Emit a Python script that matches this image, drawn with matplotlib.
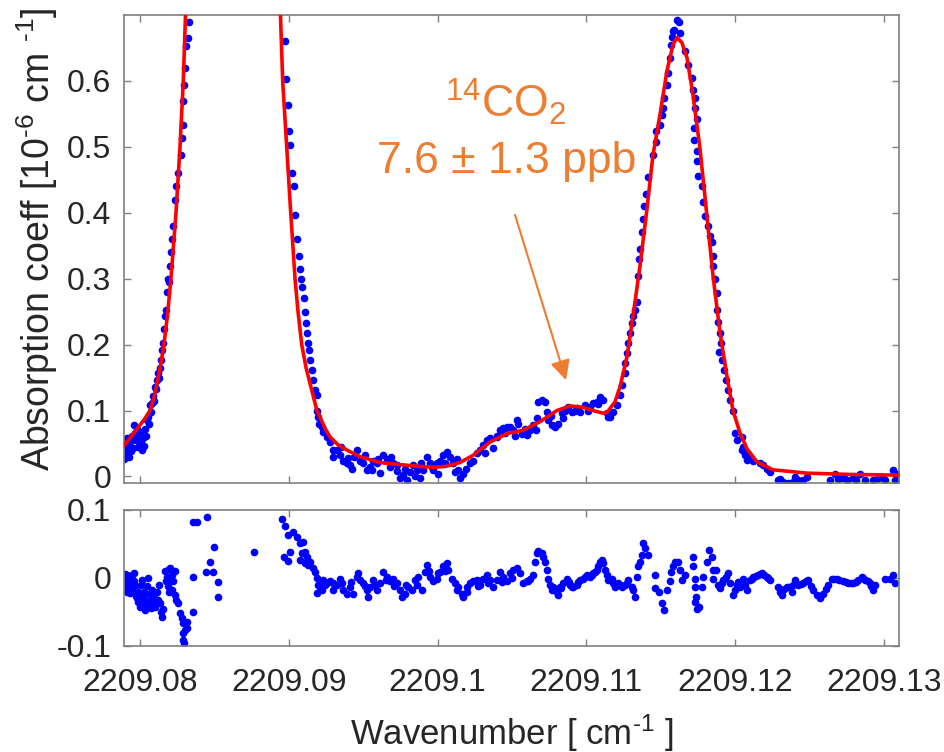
import matplotlib
matplotlib.use("Agg")
import matplotlib.pyplot as plt

# wavenumber offsets are given in 1e-3 cm^-1 above 2209.000
WN_BASE = 2209.0

# measured absorption coefficient [1e-6 cm^-1], segment by segment
left_wing = [
    (78.92, 0.050), (78.95, 0.027), (78.99, 0.040), (79.06, 0.035), (79.12, 0.058),
    (79.19, 0.045), (79.26, 0.030), (79.33, 0.052), (79.40, 0.038), (79.46, 0.062),
    (79.53, 0.043), (79.60, 0.078), (79.66, 0.066), (79.73, 0.055), (79.80, 0.072),
    (79.87, 0.045), (79.93, 0.060), (80.00, 0.068), (80.07, 0.050), (80.13, 0.040),
    (80.20, 0.058), (80.27, 0.046), (80.34, 0.072), (80.40, 0.062), (80.47, 0.085),
    (80.54, 0.090), (80.60, 0.080), (80.67, 0.108), (80.74, 0.098), (80.81, 0.112),
    (80.87, 0.122), (80.94, 0.115), (81.01, 0.136), (81.08, 0.132), (81.14, 0.146),
    (81.21, 0.157), (81.28, 0.150), (81.34, 0.165), (81.41, 0.177), (81.48, 0.192),
    (81.54, 0.203), (81.61, 0.223), (81.68, 0.243), (81.75, 0.253), (81.81, 0.280),
    (81.88, 0.300), (81.95, 0.295), (82.02, 0.320), (82.08, 0.340), (82.15, 0.360),
    (82.22, 0.380), (82.35, 0.420), (82.44, 0.440), (82.55, 0.460), (82.73, 0.487),
    (82.80, 0.513), (82.89, 0.533), (82.89, 0.570), (82.96, 0.594), (83.02, 0.620),
    (83.11, 0.653), (83.20, 0.665), (83.29, 0.690),
]

right_wing = [
    (89.74, 0.660), (89.81, 0.603), (89.95, 0.563), (89.99, 0.524), (90.08, 0.503),
    (90.19, 0.460), (90.35, 0.440), (90.42, 0.397), (90.57, 0.360), (90.68, 0.335),
    (90.75, 0.315), (90.82, 0.300), (90.89, 0.287), (90.99, 0.270), (91.09, 0.250),
    (91.16, 0.233), (91.20, 0.218), (91.29, 0.203), (91.36, 0.192), (91.42, 0.177),
    (91.53, 0.162), (91.60, 0.147), (91.76, 0.131), (91.87, 0.124), (91.89, 0.100),
    (91.99, 0.090), (92.05, 0.080), (92.21, 0.075), (92.32, 0.067), (92.55, 0.060),
    (92.77, 0.052), (92.99, 0.040), (93.00, 0.030), (93.22, 0.040), (93.44, 0.032),
    (93.50, 0.045), (93.66, 0.024), (93.89, 0.020), (94.00, 0.028), (94.11, 0.017),
    (94.22, 0.012), (94.40, 0.030), (94.56, 0.040), (94.78, 0.024), (95.01, 0.020),
    (95.10, 0.032), (95.23, 0.009), (95.46, 0.014), (95.60, 0.010), (95.68, 0.024),
    (95.91, 0.020), (96.00, 0.027), (96.13, 0.005), (96.35, 0.032), (96.58, 0.027),
    (96.80, 0.014), (96.90, 0.030), (97.02, 0.020), (97.25, 0.017), (97.30, 0.008),
    (97.47, -0.003), (97.69, 0.002), (97.80, 0.012), (97.92, -0.006), (98.14, 0.006),
    (98.37, 0.017), (98.50, 0.000), (98.59, 0.009), (98.82, -0.002), (98.90, 0.020),
    (99.04, 0.009), (99.27, 0.029), (99.49, 0.020), (99.60, 0.014), (99.71, 0.009),
    (99.94, 0.020), (100.00, 0.004), (100.16, 0.024), (100.38, 0.032), (100.50, 0.020),
    (100.61, 0.037), (100.83, 0.029), (101.05, 0.020), (101.28, 0.027), (101.40, 0.010),
]

shoulder = [
    (101.17, 0.006), (101.50, -0.002), (101.71, 0.004), (101.93, 0.012), (102.18, 0.020),
    (102.40, 0.024), (102.62, 0.035), (102.85, 0.040), (103.07, 0.047), (103.20, 0.035),
    (103.30, 0.055), (103.52, 0.058), (103.74, 0.043), (103.97, 0.060), (104.00, 0.062),
    (104.19, 0.070), (104.41, 0.073), (104.50, 0.066), (104.64, 0.075), (104.86, 0.075),
    (105.08, 0.070), (105.20, 0.062), (105.31, 0.085), (105.42, 0.080), (105.64, 0.065),
    (105.90, 0.072), (105.98, 0.063), (106.21, 0.070), (106.43, 0.078), (106.60, 0.070),
    (106.66, 0.088), (106.77, 0.113), (106.99, 0.116), (107.22, 0.113), (107.33, 0.098),
    (107.44, 0.085), (107.60, 0.092), (107.67, 0.078), (107.89, 0.075), (108.11, 0.080),
    (108.34, 0.096), (108.40, 0.088), (108.56, 0.100), (108.78, 0.105), (109.01, 0.098),
    (109.23, 0.100), (109.40, 0.104), (109.57, 0.098), (109.90, 0.108), (110.10, 0.100),
    (110.24, 0.105), (110.46, 0.111), (110.69, 0.113), (110.80, 0.110), (110.91, 0.120),
    (111.13, 0.116), (111.36, 0.096), (111.45, 0.090), (111.58, 0.090), (111.81, 0.098),
    (112.03, 0.108), (112.26, 0.124), (112.37, 0.139), (112.59, 0.157),
]

peak2 = [
    (112.59, 0.172), (112.70, 0.188), (112.81, 0.203), (112.93, 0.218), (113.04, 0.233),
    (113.15, 0.243), (113.26, 0.253), (113.37, 0.264), (113.48, 0.304), (113.55, 0.330),
    (113.60, 0.345), (113.71, 0.371), (113.78, 0.390), (113.87, 0.410), (113.98, 0.429),
    (114.16, 0.455), (114.49, 0.487), (114.67, 0.508), (114.67, 0.524), (114.94, 0.533),
    (115.06, 0.548), (115.16, 0.559), (115.23, 0.574), (115.39, 0.594), (115.50, 0.612),
    (115.62, 0.635), (115.66, 0.655), (115.73, 0.666), (115.80, 0.676), (115.88, 0.678),
    (116.11, 0.692), (116.24, 0.689), (116.29, 0.673), (116.62, 0.646), (116.85, 0.624),
    (117.07, 0.605), (117.18, 0.586), (117.29, 0.574), (117.29, 0.559), (117.41, 0.543),
    (117.23, 0.528), (117.25, 0.510), (117.41, 0.493), (117.45, 0.478), (117.52, 0.456),
    (117.75, 0.441), (117.86, 0.417), (117.97, 0.395), (118.19, 0.380), (118.31, 0.365),
    (118.42, 0.356), (118.53, 0.334), (118.53, 0.319), (118.64, 0.299), (118.75, 0.279),
    (118.79, 0.253), (118.86, 0.235), (118.98, 0.218), (119.02, 0.203), (118.93, 0.189),
    (119.09, 0.177), (119.24, 0.162), (119.38, 0.147), (119.53, 0.131), (119.65, 0.116),
    (119.87, 0.100), (119.98, 0.066), (120.09, 0.055), (120.43, 0.040), (120.65, 0.032),
    (120.99, 0.029), (121.21, 0.024),
]

tail = [
    (120.45, 0.060), (120.52, 0.045), (120.66, 0.035), (120.79, 0.025), (121.66, 0.021),
    (121.87, 0.017), (122.13, 0.012), (122.34, 0.006), (122.87, -0.006), (123.00, -0.004),
    (123.21, -0.009), (123.55, -0.010), (123.90, -0.008), (124.02, -0.001), (124.22, -0.006),
    (124.55, -0.006), (124.82, -0.001), (126.37, -0.006), (126.70, 0.004), (126.90, -0.004),
    (127.04, -0.003), (127.30, -0.002), (127.51, -0.006), (127.91, -0.003), (128.10, -0.005),
    (128.38, 0.004), (128.72, -0.006), (129.26, -0.006), (129.50, -0.004), (129.90, -0.002),
    (130.06, -0.006), (130.60, 0.009), (130.74, -0.006), (130.94, 0.004),
]

# fitted spectrum (red)
fit_curve = [
    (78.92, 0.047), (79.33, 0.058), (80.00, 0.078), (80.34, 0.088), (80.67, 0.100),
    (80.94, 0.120), (81.14, 0.140), (81.38, 0.168), (81.61, 0.200), (81.85, 0.245),
    (82.08, 0.300), (82.42, 0.400), (82.69, 0.500), (82.91, 0.600), (83.06, 0.700),
    (83.16, 0.780), (89.34, 0.780), (89.44, 0.700), (89.59, 0.600), (89.86, 0.500),
    (90.13, 0.400), (90.42, 0.300), (90.62, 0.250), (90.87, 0.200), (91.16, 0.165),
    (91.54, 0.131), (91.89, 0.100), (92.10, 0.090), (92.43, 0.073), (92.77, 0.060),
    (93.31, 0.048), (93.91, 0.040), (94.78, 0.030), (96.13, 0.021), (97.47, 0.018),
    (98.82, 0.015), (99.69, 0.014), (100.50, 0.015), (101.50, 0.021), (102.38, 0.032),
    (103.52, 0.052), (104.66, 0.065), (105.74, 0.070), (106.88, 0.083), (108.02, 0.100),
    (108.90, 0.107), (109.77, 0.105), (110.44, 0.100), (111.11, 0.096), (111.38, 0.097),
    (111.92, 0.113), (112.26, 0.136), (112.73, 0.182), (113.13, 0.243), (113.60, 0.319),
    (114.07, 0.406), (114.47, 0.487), (114.94, 0.548), (115.41, 0.615), (115.82, 0.655),
    (116.09, 0.666), (116.42, 0.658), (116.76, 0.635), (117.16, 0.579), (117.63, 0.498),
    (118.10, 0.395), (118.51, 0.304), (118.98, 0.218), (119.45, 0.151), (119.85, 0.100),
    (120.32, 0.066), (120.79, 0.042), (121.46, 0.022), (122.54, 0.010), (124.82, 0.005),
    (127.71, 0.003), (131.01, 0.002),
]

# residuals (data - fit)
resid_left = [
    (78.92, -0.005), (78.96, 0.006), (79.00, -0.012), (79.05, 0.000), (79.10, -0.020),
    (79.15, 0.004), (79.20, -0.010), (79.26, -0.016), (79.31, 0.002), (79.36, -0.022),
    (79.42, -0.008), (79.47, 0.005), (79.52, -0.017), (79.58, -0.004), (79.63, 0.007),
    (79.68, -0.012), (79.73, -0.026), (79.79, -0.030), (79.84, -0.020), (79.90, -0.036),
    (79.95, -0.028), (80.01, -0.042), (80.06, -0.010), (80.12, -0.003), (80.18, -0.030),
    (80.24, -0.040), (80.30, -0.021), (80.36, -0.047), (80.42, -0.034), (80.48, -0.012),
    (80.54, 0.000), (80.60, -0.024), (80.66, -0.038), (80.72, -0.044), (80.78, -0.030),
    (80.84, -0.018), (80.90, -0.040), (80.96, -0.028), (81.02, -0.043), (81.08, -0.035),
    (81.14, -0.020), (81.20, -0.032), (81.26, -0.010), (81.34, -0.037), (81.40, -0.050),
    (81.47, -0.057), (81.55, -0.045), (81.68, 0.010), (81.74, -0.005), (81.80, 0.002),
    (81.86, -0.012), (81.92, -0.020), (81.98, 0.013), (82.05, 0.015), (82.12, 0.005),
    (82.18, -0.018), (82.25, -0.005), (82.32, 0.010), (82.38, -0.025), (82.45, -0.032),
    (82.58, -0.037), (82.69, -0.051), (82.80, -0.059), (82.91, -0.066), (83.02, -0.076),
    (82.86, -0.081), (82.91, -0.091), (82.96, -0.096), (83.13, -0.074), (83.18, -0.065),
]

resid_gap = [
    (83.56, 0.001), (83.56, -0.050), (83.56, 0.082), (83.83, 0.082), (84.50, 0.090),
    (84.44, 0.009), (84.70, 0.024), (84.91, 0.009), (84.97, 0.046), (85.24, -0.006),
    (85.24, -0.028), (87.66, 0.038),
    (89.54, 0.087), (89.74, 0.077), (89.95, 0.063), (89.68, 0.031), (89.95, 0.025),
    (90.08, 0.038), (90.28, 0.068), (90.55, 0.060), (90.75, 0.051), (90.95, 0.053),
    (90.89, 0.037), (90.75, 0.026), (91.09, 0.038), (91.22, 0.031), (91.09, 0.022),
    (91.29, 0.019), (91.42, 0.024), (91.63, 0.015), (91.76, 0.009), (91.89, 0.000),
    (91.96, -0.010), (91.89, -0.022),
]

resid_mid = [
    (92.10, -0.013), (92.21, -0.018), (92.32, -0.003), (92.40, -0.010), (92.54, -0.008),
    (92.77, -0.005), (92.99, -0.018), (93.00, -0.008), (93.22, -0.010), (93.44, -0.001),
    (93.60, -0.008), (93.66, -0.018), (93.89, -0.023), (94.11, -0.013), (94.20, -0.006),
    (94.34, -0.023), (94.56, 0.002), (94.67, 0.007), (94.78, -0.003), (95.01, -0.008),
    (95.10, -0.012), (95.23, -0.018), (95.34, -0.028), (95.46, -0.013), (95.68, -0.003),
    (95.80, -0.010), (95.90, -0.018), (96.13, -0.008), (96.35, 0.009), (96.50, -0.003),
    (96.58, 0.002), (96.80, -0.005), (97.02, -0.001), (97.10, -0.012), (97.25, -0.008),
    (97.47, -0.018), (97.58, -0.028), (97.81, -0.023), (97.90, -0.010), (98.03, -0.013),
    (98.26, -0.018), (98.48, -0.003), (98.60, -0.010), (98.70, 0.002), (98.93, -0.018),
    (99.15, 0.009), (99.26, 0.019), (99.40, 0.010), (99.49, 0.002), (99.71, -0.005),
    (99.94, -0.001), (100.00, 0.008), (100.16, 0.009), (100.38, 0.017), (100.50, 0.010),
    (100.61, 0.022), (100.72, 0.012), (100.94, -0.001), (101.17, -0.008), (101.30, -0.018),
    (101.39, -0.013), (101.62, -0.023), (101.73, -0.028), (101.95, -0.013), (102.00, -0.020),
    (102.18, -0.008), (102.40, -0.005), (102.62, -0.003), (102.70, -0.012), (102.85, -0.010),
    (103.07, -0.001), (103.30, 0.004), (103.40, -0.008), (103.52, -0.003), (103.74, -0.013),
    (103.97, -0.003), (104.19, 0.009), (104.30, -0.006), (104.42, 0.002), (104.64, -0.005),
    (104.86, 0.007), (105.00, 0.000), (105.09, 0.012), (105.31, 0.015), (105.54, 0.007),
]

resid_right = [
    (105.76, -0.008), (105.98, -0.005), (106.10, -0.004), (106.21, -0.001), (106.43, 0.004),
    (106.54, 0.024), (106.66, 0.036), (106.77, 0.039), (106.99, 0.036), (107.10, 0.031),
    (107.22, 0.024), (107.33, 0.012), (107.44, -0.001), (107.55, -0.010), (107.66, -0.018),
    (107.78, -0.013), (107.90, -0.016), (108.00, -0.020), (108.11, -0.025), (108.22, -0.013),
    (108.30, -0.015), (108.45, -0.008), (108.67, -0.001), (108.80, -0.006), (108.90, -0.010),
    (109.00, -0.014), (109.12, -0.013), (109.34, -0.010), (109.45, -0.006), (109.57, -0.003),
    (109.79, -0.001), (109.90, 0.001), (110.02, 0.004), (110.24, 0.002), (110.35, 0.004),
    (110.46, 0.007), (110.57, 0.009), (110.69, 0.012), (110.80, 0.017), (110.91, 0.024),
    (111.02, 0.027), (111.14, 0.022), (111.25, 0.012), (111.36, 0.004), (111.47, -0.003),
    (111.70, -0.001), (111.80, -0.008), (111.92, -0.013), (112.14, -0.008), (112.25, -0.010),
    (112.37, -0.013), (112.59, -0.010), (112.70, -0.007), (112.82, -0.003), (113.04, -0.013),
    (113.15, -0.018), (113.26, -0.028), (113.38, 0.002), (113.49, 0.017), (113.60, 0.024),
    (113.71, 0.034), (113.78, 0.051), (113.94, 0.044), (114.16, 0.034), (114.61, 0.004),
    (114.61, -0.015), (114.90, -0.020), (115.10, -0.037), (115.21, -0.047), (115.39, -0.018),
    (115.62, -0.005), (115.66, 0.009), (115.80, 0.017), (115.95, 0.024), (116.18, 0.024),
    (116.29, 0.012), (116.40, -0.003), (116.62, 0.004), (117.14, 0.031), (117.18, 0.017),
    (117.30, -0.001), (117.30, -0.013), (117.36, -0.028), (117.30, -0.035), (117.41, -0.045),
    (117.59, -0.043), (117.74, -0.013), (117.86, 0.001), (118.08, 0.024), (118.26, 0.041),
    (118.42, 0.031), (118.53, 0.012), (118.71, 0.012), (118.53, -0.001), (118.85, -0.010),
    (118.98, -0.015), (119.10, -0.008), (119.20, -0.003), (119.40, 0.002), (119.54, 0.007),
    (119.65, -0.008), (119.87, -0.025), (120.00, -0.018), (120.10, -0.010), (120.20, -0.006),
    (120.32, -0.013), (120.54, -0.001), (120.65, -0.010), (120.77, -0.018), (120.99, -0.003),
    (121.10, -0.001), (121.22, 0.001), (121.40, 0.003), (121.55, 0.004), (121.65, 0.006),
    (121.78, 0.007), (121.95, 0.004), (122.11, 0.001), (122.20, 0.000), (122.34, -0.003),
    (122.90, -0.013), (123.00, -0.020), (123.12, -0.025), (123.30, -0.016), (123.46, -0.013),
    (123.60, -0.014), (123.79, -0.020), (123.90, -0.010), (124.02, -0.003), (124.24, -0.010),
    (124.40, -0.009), (124.58, -0.008), (124.75, -0.005), (124.91, -0.003), (125.10, -0.012),
    (125.25, -0.018), (125.47, -0.025), (125.70, -0.030), (125.92, -0.023), (126.10, -0.016),
    (126.26, -0.010), (126.48, -0.001), (126.65, -0.002), (126.82, -0.001), (127.00, -0.003),
    (127.26, -0.005), (127.45, -0.006), (127.60, -0.008), (127.80, -0.008), (127.94, -0.008),
    (128.10, -0.006), (128.27, -0.003), (128.50, 0.002), (128.60, 0.000), (128.72, -0.003),
    (128.90, -0.005), (129.06, -0.008), (129.15, -0.012), (129.28, -0.018), (129.39, -0.010),
    (130.06, -0.002), (130.40, -0.002), (130.62, 0.004), (130.74, -0.008),
]

x_ticks = [2209.08, 2209.09, 2209.10, 2209.11, 2209.12, 2209.13]
x_tick_labels = ["2209.08", "2209.09", "2209.1", "2209.11", "2209.12", "2209.13"]
top_ticks = [0, 0.1, 0.2, 0.3, 0.4, 0.5, 0.6]
top_tick_labels = ["0", "0.1", "0.2", "0.3", "0.4", "0.5", "0.6"]
res_ticks = [-0.1, 0, 0.1]
res_tick_labels = ["-0.1", "0", "0.1"]

# label position of the 14CO2 note and its arrow (offset 1e-3 cm^-1, 1e-6 cm^-1)
note_xy = (104.6, 0.545)
note_value_xy = (104.66, 0.460)
arrow_start = (105.20, 0.397)
arrow_tip = (108.63, 0.146)


def to_wn(dx):
    return [WN_BASE + v / 1000.0 for v in dx]


def split(points):
    xs = [p[0] for p in points]
    ys = [p[1] for p in points]
    return to_wn(xs), ys


def style_axes(ax):
    for s in ax.spines.values():
        s.set_color("#7f7f7f")
        s.set_linewidth(1.2)
    ax.tick_params(direction="in", length=5, width=1.0, color="#7f7f7f",
                   labelsize=23, labelcolor="#262626", top=True, right=True)
    ax.tick_params(axis="y", pad=9)
    ax.tick_params(axis="x", pad=16)


plt.rcParams["font.family"] = ["Liberation Sans", "DejaVu Sans"]
plt.rcParams["mathtext.fontset"] = "custom"
plt.rcParams["mathtext.rm"] = "Liberation Sans"
plt.rcParams["mathtext.it"] = "Liberation Sans:italic"
plt.rcParams["mathtext.default"] = "regular"

fig = plt.figure(figsize=(9.45, 7.52), dpi=100)
ax = fig.add_axes([0.1312, 0.3577, 0.8201, 0.6223])
axr = fig.add_axes([0.1312, 0.1410, 0.8201, 0.1809])

blue = "#0000ff"
orange = "#ed7d31"
xlim = (WN_BASE + 78.925 / 1000, WN_BASE + 131.005 / 1000)

for seg in [left_wing, right_wing, shoulder, peak2, tail]:
    sx, sy = split(seg)
    ax.plot(sx, sy, ".", color=blue, markersize=9, zorder=2)
fx, fy = split(fit_curve)
ax.plot(fx, fy, "-", color="#ff0000", lw=2.6, zorder=3)

ax.set_xlim(xlim)
ax.set_ylim(-0.01, 0.7)
ax.set_xticks(x_ticks)
ax.set_xticklabels([])
ax.set_yticks(top_ticks)
ax.set_yticklabels(top_tick_labels)
style_axes(ax)
ax.set_ylabel(r"Absorption coeff [10$^{\text{-}6}$ cm $^{\text{-}1}$]", fontsize=27,
              color="#262626")
ax.yaxis.set_label_coords(-0.083, 0.52)

ax.text(WN_BASE + note_xy[0] / 1000, note_xy[1], r"$^{14}$CO$_2$", color=orange,
        fontsize=32, ha="center", va="baseline")
ax.text(WN_BASE + note_value_xy[0] / 1000, note_value_xy[1], "7.6 \u00b1 1.3 ppb",
        color=orange, fontsize=32, ha="center", va="baseline")
ax.annotate("", xy=(WN_BASE + arrow_tip[0] / 1000, arrow_tip[1]),
            xytext=(WN_BASE + arrow_start[0] / 1000, arrow_start[1]),
            arrowprops=dict(arrowstyle="-|>", color=orange, lw=1.5,
                            mutation_scale=30, shrinkA=0, shrinkB=0))

for seg in [resid_left, resid_gap, resid_mid, resid_right]:
    rx, ry = split(seg)
    axr.plot(rx, ry, ".", color=blue, markersize=9)

axr.set_xlim(xlim)
axr.set_ylim(-0.1, 0.1)
axr.set_xticks(x_ticks)
axr.set_xticklabels(x_tick_labels)
axr.set_yticks(res_ticks)
axr.set_yticklabels(res_tick_labels)
style_axes(axr)
axr.set_xlabel(r"Wavenumber [ cm$^{\text{-}1}$ ]", fontsize=25, color="#262626",
               labelpad=10)

fig.savefig("out.png", dpi=100)
